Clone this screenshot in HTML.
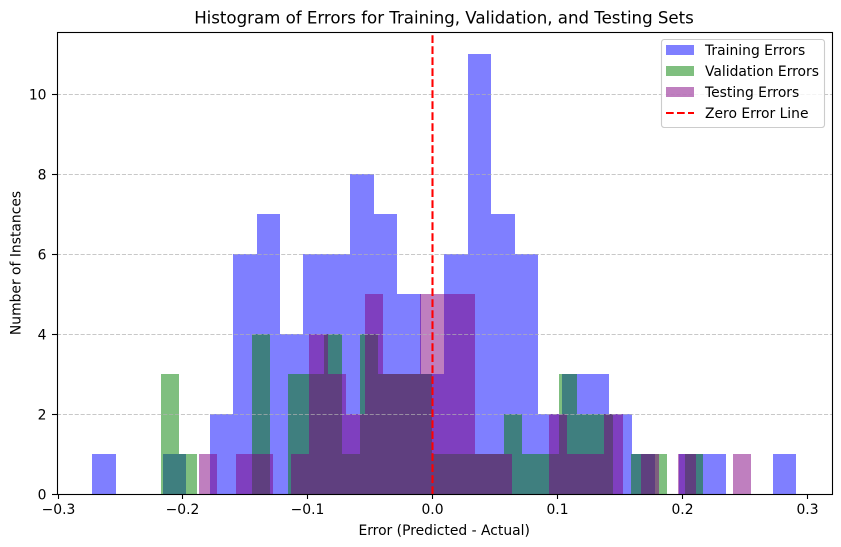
<!DOCTYPE html>
<html lang="en">
<head>
<meta charset="utf-8">
<title>Histogram of Errors</title>
<style>
html,body{margin:0;padding:0;background:#fff;width:841px;height:547px;overflow:hidden}
svg{display:block}
text{font-family:"DejaVu Sans","Liberation Sans",sans-serif;fill:#000}
</style>
</head>
<body>
<svg id="chart" xmlns="http://www.w3.org/2000/svg" width="841" height="547" viewBox="0 0 841 547"></svg>
<script>
const trainingCounts = [1,0,0,1,0,2,6,7,4,6,6,8,7,5,3,6,11,7,6,2,3,3,2,1,0,1,1,0,0,1];
const validationCounts = [3,1,0,0,0,4,0,3,3,4,1,4,3,3,3,1,1,1,1,2,1,1,3,2,2,0,1,1,0,1];
const testingCounts = [1,0,1,1,0,1,4,3,2,5,3,3,5,5,5,1,1,0,0,2,1,1,2,0,1,0,1,0,0,1];
const trainingRange = [-0.27238, 0.29123];
const validationRange = [-0.21713, 0.21665];
const testingRange = [-0.18695, 0.25537];
const xTicks = [-0.3,-0.2,-0.1,0,0.1,0.2,0.3];
const xTickLabels = ["\u22120.3","\u22120.2","\u22120.1","0.0","0.1","0.2","0.3"];
const yTicks = [0,2,4,6,8,10];
const yTickLabels = ["0","2","4","6","8","10"];
const legendLabels = ["Training Errors","Validation Errors","Testing Errors","Zero Error Line"];

const NS = "http://www.w3.org/2000/svg";
const svg = document.getElementById("chart");
const xScale = v => 432.5 + 1249 * v;
const yScale = v => 494 - 40 * v;

function make(tag, attrs, parent, content){
  const el = document.createElementNS(NS, tag);
  for (const k in attrs) el.setAttribute(k, attrs[k]);
  if (content !== undefined) el.textContent = content;
  (parent || svg).appendChild(el);
  return el;
}

function drawSeries(counts, range, fill, name){
  const g = make("g", {fill:fill, "fill-opacity":0.5, "shape-rendering":"crispEdges"});
  
  
  const w = (range[1] - range[0]) / counts.length;
  counts.forEach((c, i) => {
    if (!c) return;
    const x0 = Math.round(xScale(range[0] + i * w));
    const x1 = Math.round(xScale(range[0] + (i + 1) * w));
    const r = make("rect", {x:x0, y:yScale(c), width:x1 - x0, height:yScale(0) - yScale(c)}, g);
    
    
  });
}

const bg = make("rect", {x:57, y:32, width:775, height:462, fill:"#fff"});



drawSeries(trainingCounts, trainingRange, "#0000ff", "training-errors");
drawSeries(validationCounts, validationRange, "#008000", "validation-errors");
drawSeries(testingCounts, testingRange, "#800080", "testing-errors");

yTicks.forEach((t, i) => {
  const y = Math.round(yScale(t)) + 0.5;
  if (t > 0) {
    const gl = make("line", {x1:57, x2:832, y1:y, y2:y, stroke:"#b0b0b0", "stroke-opacity":0.7, "stroke-width":1.1, "stroke-dasharray":"4.1 1.8"});
    
    
  }
  const tk = make("line", {x1:52, x2:57, y1:y, y2:y, stroke:"#000", "stroke-width":1.1});
  
  
  const lb = make("text", {x:46.5, y:y + 4.8, "text-anchor":"end", "font-size":13.89}, svg, yTickLabels[i]);
  
  
});

xTicks.forEach((t, i) => {
  const x = Math.round(xScale(t) - 0.3) + 0.5;
  const tk = make("line", {x1:x, x2:x, y1:494, y2:499, stroke:"#000", "stroke-width":1.1});
  
  
  const lb = make("text", {x:x, y:514, "text-anchor":"middle", "font-size":13.89}, svg, xTickLabels[i]);
  
  
});

const zero = make("line", {x1:xScale(0), x2:xScale(0), y1:494, y2:32, stroke:"#ff0000", "stroke-width":2.08, "stroke-dasharray":"7.7 3.3"});



const frame = make("rect", {x:57.5, y:32.5, width:775, height:462, fill:"none", stroke:"#000", "stroke-width":1.1});



const title = make("text", {x:444, y:23.5, "text-anchor":"middle", "font-size":16.67, "letter-spacing":"-0.03"}, svg, "Histogram of Errors for Training, Validation, and Testing Sets");



const xTitle = make("text", {x:444.2, y:535, "text-anchor":"middle", "font-size":13.89}, svg, "Error (Predicted - Actual)");



const yTitle = make("text", {x:0, y:0, transform:"translate(20.5,263) rotate(-90)", "text-anchor":"middle", "font-size":13.89}, svg, "Number of Instances");



const legend = make("g", {});


const legendBox = make("rect", {x:661.5, y:39.5, width:163, height:88, rx:2.8, ry:2.8, fill:"#fff", "fill-opacity":0.8, stroke:"#cccccc", "stroke-width":1.1}, legend);


const swatchColors = ["#0000ff","#008000","#800080"];
legendLabels.forEach((label, i) => {
  const cy = 50 + i * 21;
  if (i < 3) {
    const sw = make("rect", {x:666, y:cy - 5, width:28, height:10, fill:swatchColors[i], "fill-opacity":0.5, "shape-rendering":"crispEdges"}, legend);
    
    
  } else {
    const ln = make("line", {x1:666, x2:694, y1:cy, y2:cy, stroke:"#ff0000", "stroke-width":2.08, "stroke-dasharray":"7.7 3.3"}, legend);
    
    
  }
  const tx = make("text", {x:705, y:cy + 5, "font-size":13.89}, legend, label);
  
  
});
</script>
</body>
</html>
